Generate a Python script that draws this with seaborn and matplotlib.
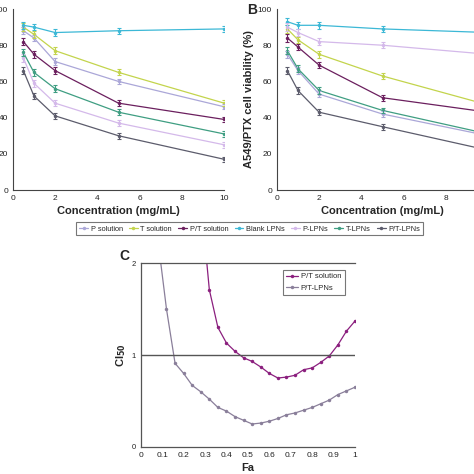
import numpy as np
import pandas as pd
import seaborn as sns
import matplotlib.pyplot as plt

# concentrations (mg/mL)
conc = [0.5, 1, 2, 5, 10]
names = ['P solution', 'T solution', 'P/T solution', 'Blank LPNs', 'P-LPNs', 'T-LPNs', 'P/T-LPNs']
colors = ['#aba7d8', '#c3d44c', '#6b1f5e', '#3cb8d6', '#d4b9ea', '#3f9e82', '#5c5c6c']

# panel A viability (%)
a_p_sol = [88, 84, 71, 60, 46]
a_t_sol = [90, 86, 77, 65, 48]
a_pt_sol = [82, 75, 66, 48, 39]
a_blank = [91, 90, 87, 88, 89]
a_p_lpn = [73, 59, 48, 37, 25]
a_t_lpn = [76, 65, 56, 43, 31]
a_pt_lpn = [66, 52, 41, 30, 17]
a_err = [2, 1.8, 1.8, 1.6, 1.5]

# panel B A549/PTX viability (%)
b_p_sol = [75, 66, 53, 42, 30]
b_t_sol = [89, 83, 75, 63, 47]
b_pt_sol = [84, 79, 69, 51, 43]
b_blank = [93, 91, 91, 89, 87]
b_p_lpn = [90, 87, 82, 80, 75]
b_t_lpn = [77, 67, 55, 44, 31]
b_pt_lpn = [66, 55, 43, 35, 22]
b_err = [2, 1.8, 1.8, 1.6, 1.5]

# panel C combination index
fa = [0.08, 0.12, 0.16, 0.20, 0.24, 0.28, 0.32, 0.36, 0.40, 0.44, 0.48, 0.52,
      0.56, 0.60, 0.64, 0.68, 0.72, 0.76, 0.80, 0.84, 0.88, 0.92, 0.96, 1.00]
ci_lpn = [2.25, 1.50, 0.91, 0.80, 0.67, 0.60, 0.52, 0.43, 0.39, 0.33, 0.29, 0.25,
          0.26, 0.28, 0.31, 0.35, 0.37, 0.40, 0.43, 0.47, 0.51, 0.57, 0.61, 0.65]
fa_sol = [0.28, 0.32, 0.36, 0.40, 0.44, 0.48, 0.52, 0.56, 0.60, 0.64, 0.68, 0.72,
          0.76, 0.80, 0.84, 0.88, 0.92, 0.96, 1.00]
ci_sol = [2.70, 1.71, 1.30, 1.13, 1.04, 0.97, 0.93, 0.87, 0.80, 0.75, 0.76, 0.78,
          0.84, 0.86, 0.92, 0.99, 1.11, 1.26, 1.37]

sns.set_style('white')
plt.rcParams['font.family'] = ['Liberation Sans', 'DejaVu Sans']


def long_df(series):
    rows = []
    for name, vals in zip(names, series):
        for c, v in zip(conc, vals):
            rows.append({'conc': c, 'via': v, 'group': name})
    return pd.DataFrame(rows)


def viability_panel(ax, series, err):
    df = long_df(series)
    sns.lineplot(data=df, x='conc', y='via', hue='group', hue_order=names,
                 palette=colors, marker='o', markersize=2.5, markeredgewidth=0,
                 linewidth=0.9, ax=ax, legend=True)
    for name, vals, col in zip(names, series, colors):
        ax.errorbar(conc, vals, yerr=err, fmt='none', ecolor=col,
                    elinewidth=0.8, capsize=1.5, capthick=0.8)
    ax.set_xlim(0, 10)
    ax.set_ylim(0, 100)
    ax.set_yticks(range(0, 101, 20))
    ax.tick_params(labelsize=6, length=2, width=0.6, pad=1.5, colors='#222222')
    ax.set_xlabel('Concentration (mg/mL)', fontsize=8, fontweight='bold', labelpad=3)
    for s in ['top', 'right']:
        ax.spines[s].set_visible(False)
    for s in ['left', 'bottom']:
        ax.spines[s].set_color('#444444')
        ax.spines[s].set_linewidth(0.8)


fig = plt.figure(figsize=(4.74, 4.74), dpi=100)
ax_a = fig.add_axes([0.027, 0.599, 0.446, 0.382])
ax_b = fig.add_axes([0.584, 0.599, 0.446, 0.382])
ax_c = fig.add_axes([0.297, 0.057, 0.452, 0.388])

viability_panel(ax_a, [a_p_sol, a_t_sol, a_pt_sol, a_blank, a_p_lpn, a_t_lpn, a_pt_lpn], a_err)
ax_a.set_xticks(range(0, 11, 2))
ax_a.set_ylabel('')
viability_panel(ax_b, [b_p_sol, b_t_sol, b_pt_sol, b_blank, b_p_lpn, b_t_lpn, b_pt_lpn], b_err)
ax_b.set_xticks(range(0, 9, 2))
ax_b.set_ylabel('A549/PTX cell viability (%)', fontsize=8, fontweight='bold', labelpad=3)

handles, labels = ax_a.get_legend_handles_labels()
ax_a.get_legend().remove()
ax_b.get_legend().remove()
leg = fig.legend(handles, labels, loc='center', bbox_to_anchor=(0.527, 0.517), ncol=7,
                 fontsize=5.3, frameon=True, fancybox=False, edgecolor='#555555',
                 handlelength=1.2, handletextpad=0.35, columnspacing=0.85,
                 borderpad=0.4)
leg.get_frame().set_linewidth(0.8)

fig.text(0.522, 0.978, 'B', fontsize=10, fontweight='bold', va='center')
fig.text(0.252, 0.46, 'C', fontsize=10, fontweight='bold', va='center')

# panel C
sns.lineplot(x=fa_sol, y=ci_sol, color='#8b1f7e', marker='o', markersize=2.5,
             markeredgewidth=0, linewidth=0.9, ax=ax_c, label='P/T solution')
sns.lineplot(x=fa, y=ci_lpn, color='#8a7f9a', marker='o', markersize=2.5,
             markeredgewidth=0, linewidth=0.9, ax=ax_c, label='P/T-LPNs')
ax_c.axhline(1, color='#555555', linewidth=1)
ax_c.set_xlim(0, 1)
ax_c.set_ylim(0, 2)
ax_c.set_xticks(np.arange(0, 1.01, 0.1))
ax_c.set_xticklabels(['0', '0.1', '0.2', '0.3', '0.4', '0.5', '0.6', '0.7', '0.8', '0.9', '1'])
ax_c.set_yticks([0, 1, 2])
ax_c.tick_params(labelsize=6, length=2, width=0.6, pad=1.5, colors='#222222')
ax_c.tick_params(axis='y', labelsize=5.5)
ax_c.set_xlabel('Fa', fontsize=8, fontweight='bold', labelpad=3)
ax_c.set_ylabel('CI$_{\\mathbf{50}}$', fontsize=8, fontweight='bold', labelpad=3)
ax_c.spines['right'].set_visible(False)
for s in ['left', 'bottom', 'top']:
    ax_c.spines[s].set_color('#555555')
    ax_c.spines[s].set_linewidth(0.9)
lc = ax_c.legend(loc='upper right', bbox_to_anchor=(0.97, 0.985), fontsize=5.5,
                 frameon=True, fancybox=False, edgecolor='#555555',
                 handlelength=1.5, handletextpad=0.4, borderpad=0.45)
lc.get_frame().set_linewidth(0.8)

fig.savefig('out.png', dpi=100)
